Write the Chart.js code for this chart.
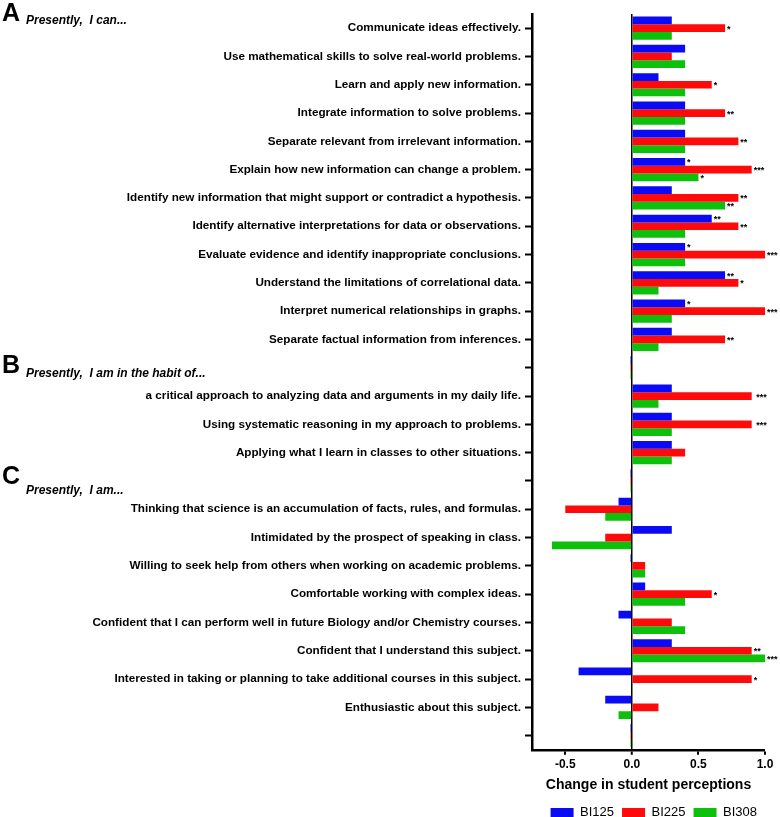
<!DOCTYPE html>
<html><head><meta charset="utf-8">
<script src="https://cdn.jsdelivr.net/npm/chart.js@4"></script>
<style>html,body{margin:0;padding:0;background:#fff;}#wrap{width:780px;height:817px;position:relative;overflow:hidden;}</style>
</head><body><div id="wrap"><canvas id="c" width="780" height="817"></canvas></div>
<script>
const categories = [
 "Communicate ideas effectively.",
 "Use mathematical skills to solve real-world problems.",
 "Learn and apply new information.",
 "Integrate information to solve problems.",
 "Separate relevant from irrelevant information.",
 "Explain how new information can change a problem.",
 "Identify new information that might support or contradict a hypothesis.",
 "Identify alternative interpretations for data or observations.",
 "Evaluate evidence and identify inappropriate conclusions.",
 "Understand the limitations of correlational data.",
 "Interpret numerical relationships in graphs.",
 "Separate factual information from inferences.",
 "",
 "a critical approach to analyzing data and arguments in my daily life.",
 "Using systematic reasoning in my approach to problems.",
 "Applying what I learn in classes to other situations.",
 "",
 "Thinking that science is an accumulation of facts, rules, and formulas.",
 "Intimidated by the prospect of speaking in class.",
 "Willing to seek help from others when working on academic problems.",
 "Comfortable working with complex ideas.",
 "Confident that I can perform well in future Biology and/or Chemistry courses.",
 "Confident that I understand this subject.",
 "Interested in taking or planning to take additional courses in this subject.",
 "Enthusiastic about this subject.",
 ""
];
const BI125 = [0.3,0.4,0.2,0.4,0.4,0.4,0.3,0.6,0.4,0.7,0.4,0.3,-0.01,0.3,0.3,0.3,-0.01,-0.1,0.3,-0.01,0.1,-0.1,0.3,-0.4,-0.2,-0.01];
const BI225 = [0.7,0.3,0.6,0.7,0.8,0.9,0.8,0.8,1.0,0.8,1.0,0.7,-0.01,0.9,0.9,0.4,-0.01,-0.5,-0.2,0.1,0.6,0.3,0.9,0.9,0.2,-0.01];
const BI308 = [0.3,0.4,0.4,0.4,0.4,0.5,0.7,0.4,0.4,0.2,0.3,0.2,-0.01,0.2,0.3,0.3,-0.01,-0.2,-0.6,0.1,0.4,0.4,1.0,0.005,-0.1,-0.01];
const stars125 = ["","","","","","*","","**","*","**","*","","","","","","","","","","","","","","",""];
const stars225 = ["*","","*","**","**","***","**","**","***","*","***","**",""," ***"," ***","","","","","","*","","**","*","",""];
const stars308 = ["","","","","","*","**","","","","","","","","","","","","","","","","***","","",""];
const xTicks = [-0.5, 0.0, 0.5, 1.0];
const sectionLetters = ["A", "B", "C"];
const sectionTexts = ["Presently,  I can...", "Presently,  I am in the habit of...", "Presently,  I am..."];

const SANS = "'Liberation Sans', Arial, sans-serif";

const starPlugin = {
  id:'stars',
  afterDatasetsDraw(chart){
    const ctx = chart.ctx;
    const all = [stars125, stars225, stars308];
    ctx.save();
    ctx.fillStyle = '#000';
    ctx.font = "bold 9px " + SANS;
    ctx.textBaseline = 'middle';
    ctx.textAlign = 'left';
    all.forEach((arr, di) => {
      const meta = chart.getDatasetMeta(di);
      arr.forEach((s, j) => {
        if (!s) return;
        const el = meta.data[j];
        ctx.fillText(s, el.x + 2, el.y + 1);
      });
    });
    ctx.restore();
  }
};

const headPlugin = {
  id:'heads',
  afterDraw(chart){
    const ctx = chart.ctx;
    ctx.save();
    ctx.fillStyle = '#000';
    const pos = [{ly:21, ty:24},{ly:373, ty:377},{ly:484, ty:494}];
    sectionLetters.forEach((L, i) => {
      ctx.font = "bold 25px " + SANS;
      ctx.textBaseline = 'alphabetic';
      ctx.textAlign = 'left';
      ctx.fillText(L, 2, pos[i].ly);
      ctx.font = "italic bold 12px " + SANS;
      ctx.fillText(sectionTexts[i], 26, pos[i].ty);
    });
    ctx.restore();
  }
};

new Chart(document.getElementById('c'), {
  type:'bar',
  data:{
    labels: categories,
    datasets:[
      {label:'BI125', data:BI125, backgroundColor:'#0a0af5', categoryPercentage:0.82, barPercentage:1.0},
      {label:'BI225', data:BI225, backgroundColor:'#ff0a0a', categoryPercentage:0.82, barPercentage:1.0},
      {label:'BI308', data:BI308, backgroundColor:'#0cc00c', categoryPercentage:0.82, barPercentage:1.0}
    ]
  },
  options:{
    indexAxis:'y',
    responsive:false,
    animation:false,
    layout:{padding:{top:14, right:15, left:0, bottom:-12}},
    plugins:{
      legend:{
        position:'bottom',
        align:'end',
        labels:{
          boxWidth:23, boxHeight:9, padding:8, color:'#000',
          font:{size:13, family:SANS}
        }
      },
      tooltip:{enabled:false}
    },
    scales:{
      y:{
        grid:{offset:false, drawOnChartArea:false, drawTicks:true, tickLength:7, tickColor:'#000', tickWidth:2},
        border:{display:true, color:'#000', width:2.5},
        ticks:{color:'#000', autoSkip:false, padding:4, font:{size:11.7, weight:'bold', family:SANS}},
        afterFit(scale){ scale.width = 532; }
      },
      x:{
        min:-0.75, max:1.0,
        afterBuildTicks(scale){ scale.ticks = xTicks.map(v => ({value:v})); },
        grid:{
          color:(c)=> (c.tick && c.tick.value === 0) ? '#000' : 'rgba(0,0,0,0)',
          lineWidth:(c)=> (c.tick && c.tick.value === 0) ? 1.5 : 0,
          drawTicks:true, tickLength:5, tickColor:'#000', tickWidth:2
        },
        border:{display:true, color:'#000', width:2.5},
        ticks:{color:'#000', padding:3, font:{size:12, weight:'bold', family:SANS},
          callback:(v)=> Number(v).toFixed(1)},
        title:{display:true, text:'Change in student perceptions', color:'#000', padding:{top:2, bottom:4},
          font:{size:14, weight:'bold', family:SANS}}
      }
    }
  },
  plugins:[starPlugin, headPlugin]
});
</script></body></html>
